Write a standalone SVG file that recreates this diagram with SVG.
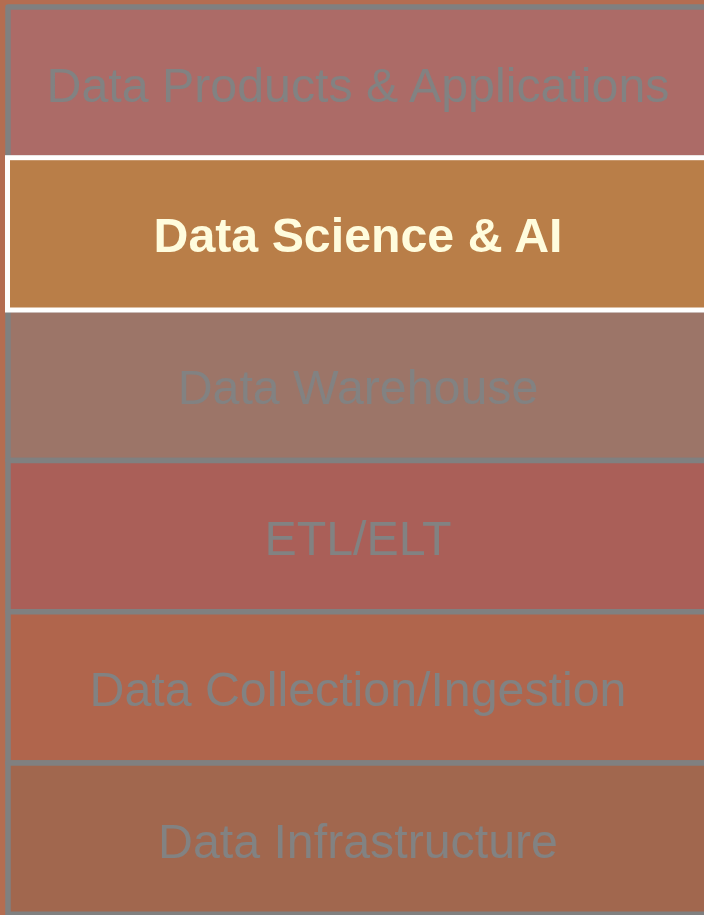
<svg xmlns="http://www.w3.org/2000/svg" width="704" height="915" viewBox="0 0 704 915">
<style>
.blk{stroke:#808080;stroke-width:5.5;stroke-linejoin:round}
.lbl{font-family:"Liberation Sans",Arial,sans-serif;font-size:48.3px;fill:#828282;text-anchor:middle}
.hl{stroke:#ffffff;stroke-width:5}
.hlt{font-family:"Liberation Sans",Arial,sans-serif;font-size:48.3px;font-weight:bold;fill:#FFFCDD;text-anchor:middle}
</style>
<rect x="0" y="0" width="704" height="915" fill="#B46D51"/>
<g id="connectors"></g>
<g id="layer-products">
<rect class="blk" x="8" y="7" width="700" height="151.2" fill="#AC6B67"/>
<text class="lbl" x="358" y="101.5">Data Products &amp; Applications</text>
</g>
<g id="layer-warehouse">
<rect class="blk" x="8" y="309.4" width="700" height="151.2" fill="#9C7568"/>
<text class="lbl" x="358" y="404">Data Warehouse</text>
</g>
<g id="layer-etl">
<rect class="blk" x="8" y="460.6" width="700" height="151.2" fill="#AA5F58"/>
<text class="lbl" x="358" y="555.2">ETL/ELT</text>
</g>
<g id="layer-ingestion">
<rect class="blk" x="8" y="611.8" width="700" height="151.2" fill="#B0654C"/>
<text class="lbl" x="358" y="706.4">Data Collection/Ingestion</text>
</g>
<g id="layer-infrastructure">
<rect class="blk" x="8" y="763" width="700" height="151.2" fill="#A1674E"/>
<text class="lbl" x="358" y="857.6">Data Infrastructure</text>
</g>
<g id="layer-datascience">
<rect class="hl" x="7.5" y="157.7" width="701" height="152.3" fill="#B97E48"/>
<text class="hlt" x="358" y="252.3">Data Science &amp; AI</text>
</g>
</svg>
